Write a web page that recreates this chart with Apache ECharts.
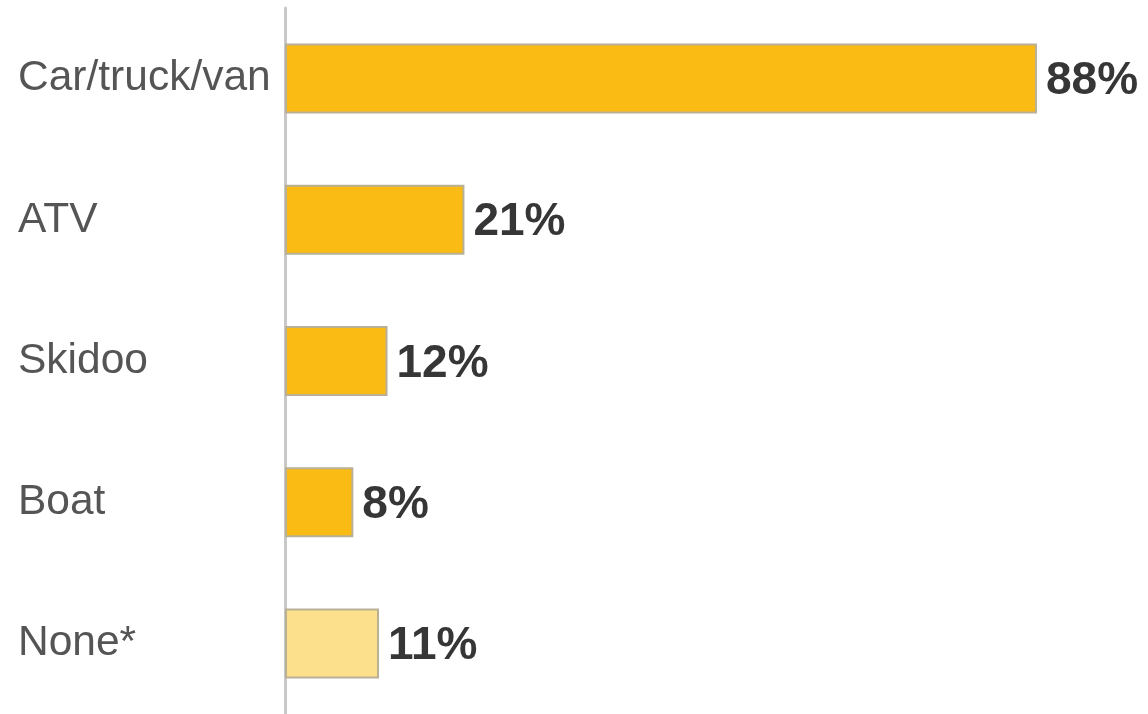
<!DOCTYPE html>
<html>
<head>
<meta charset="utf-8">
<script src="https://cdn.jsdelivr.net/npm/echarts@6/dist/echarts.min.js"></script>
<style>
  html, body { margin: 0; padding: 0; background: #ffffff; }
  #chart { width: 1148px; height: 714px; }
</style>
</head>
<body>
<div id="chart"></div>
<script>
// Mode of transport used, share of respondents (%)
const categories = ['Car/truck/van', 'ATV', 'Skidoo', 'Boat', 'None*'];
const shares = [88, 21, 12, 8, 11];
const highlight = [true, true, true, true, false];

const chart = echarts.init(document.getElementById('chart'));

const barData = shares.map((v, i) => ({
  value: v,
  itemStyle: { color: highlight[i] ? '#f9bb14' : '#fde08b' }
}));

chart.setOption({
  animation: false,
  backgroundColor: '#ffffff',
  grid: { left: 285, right: 8.5, top: 8, bottom: -3, containLabel: false },
  xAxis: {
    type: 'value',
    min: 0,
    max: 100,
    show: false
  },
  yAxis: {
    type: 'category',
    data: categories,
    inverse: true,
    axisLine: { show: true, lineStyle: { color: '#c8c8c8', width: 3 } },
    axisTick: { show: false },
    axisLabel: {
      margin: 267,
      align: 'left',
      padding: [7, 0, 0, 0],
      fontFamily: 'Liberation Sans, Arial, sans-serif',
      fontSize: 42.5,
      color: '#555555'
    }
  },
  series: [{
    type: 'bar',
    data: barData,
    barWidth: 70,
    itemStyle: { borderColor: '#b9b096', borderWidth: 2 },
    label: {
      show: true,
      position: 'right',
      distance: 9,
      offset: [0, 3],
      formatter: '{c}%',
      fontFamily: 'Liberation Sans, Arial, sans-serif',
      fontWeight: 'bold',
      fontSize: 46,
      color: '#363636'
    }
  }]
});
</script>
</body>
</html>
